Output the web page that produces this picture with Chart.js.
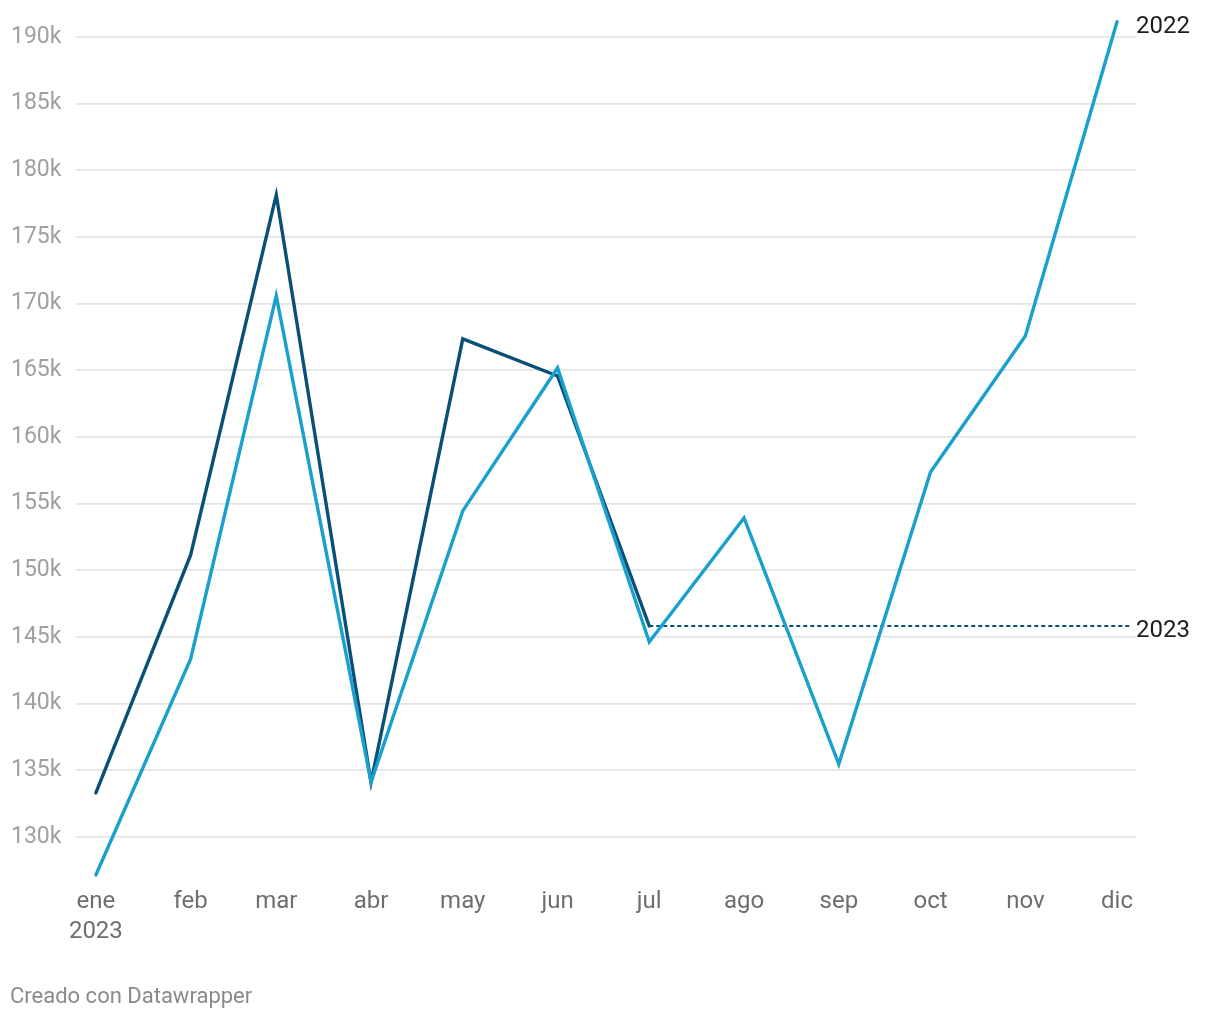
<!DOCTYPE html>
<html>
<head>
<meta charset="utf-8">
<script src="https://cdn.jsdelivr.net/npm/chart.js@4.4.0/dist/chart.umd.min.js"></script>
<style>
html,body{margin:0;padding:0;background:#fff;}
#wrap{position:relative;width:1220px;height:1020px;}
</style>
</head>
<body>
<div id="wrap"><canvas id="c" width="1220" height="1020"></canvas></div>
<script>
// Month labels and their day offset from 1 Jan
const months = ['ene','feb','mar','abr','may','jun','jul','ago','sep','oct','nov','dic'];
const monthDay = [0,31,59,90,120,151,181,212,243,273,304,334];
const yearLabel = '2023';
// Series values (thousands)
const values2022 = [127.15,143.35,170.57,134.12,154.45,165.17,144.62,153.92,135.47,157.37,167.57,191.13];
const values2023 = [133.3,151.15,178.15,134.1,167.35,164.57,145.82];
// dotted extension of last 2023 value
const extensionX = [181,338];
const yTicks = [130,135,140,145,150,155,160,165,170,175,180,185,190];
const footer = 'Creado con Datawrapper';

const C22 = '#1aa0cc';
const C23 = '#0a5076';

const pts = (vals) => vals.map((v,i)=>({x:monthDay[i], y:v}));
const lastV23 = values2023[values2023.length-1];

const endLabels = {
  id:'endLabels',
  afterDatasetsDraw(chart){
    const {ctx, scales:{x,y}} = chart;
    ctx.save();
    ctx.font = '24px Roboto';
    ctx.fillStyle = '#1d1d1d';
    ctx.textBaseline = 'middle';
    ctx.textAlign = 'left';
    ctx.fillText('2022', 1136, y.getPixelForValue(values2022[11]) + 5);
    ctx.fillText('2023', 1136, y.getPixelForValue(lastV23) + 5);
    ctx.font = '22px Roboto';
    ctx.fillStyle = '#8a8a8a';
    ctx.fillText(footer, 10, 997);
    ctx.restore();
  }
};

new Chart(document.getElementById('c'), {
  type:'line',
  data:{
    datasets:[
      {label:'2022', data:pts(values2022), borderColor:C22, borderWidth:3.4, borderCapStyle:'round', pointRadius:0, tension:0, clip:false},
      {label:'2023', data:pts(values2023), borderColor:C23, borderWidth:3.4, borderCapStyle:'round', pointRadius:0, tension:0, clip:false},
      {label:'2023 ext', data:extensionX.map(x=>({x, y:lastV23})), borderColor:C23, borderWidth:1.8, borderDash:[4,3], pointRadius:0, clip:false}
    ]
  },
  options:{
    responsive:false,
    animation:false,
    devicePixelRatio:1,
    layout:{padding:{left:11,right:84,top:20,bottom:0}},
    plugins:{legend:{display:false}, tooltip:{enabled:false}},
    scales:{
      x:{
        type:'linear', min:-6.5, max:340.2,
        grid:{display:false}, border:{display:false},
        afterBuildTicks(s){ s.ticks = monthDay.map(v=>({value:v})); },
        afterFit(s){ s.height = 144; },
        ticks:{
          autoSkip:false, maxRotation:0, padding:3,
          color:'#6e6e6e', font:{family:'Roboto', size:24, lineHeight:1.25},
          callback(v){ const i = monthDay.indexOf(v); return i===0 ? [months[0], yearLabel] : months[i]; }
        }
      },
      y:{
        min:127.075, max:190.825,
        grid:{color:'#e4e4e4', lineWidth:1.8, drawTicks:false},
        border:{display:false},
        afterBuildTicks(s){ s.ticks = yTicks.map(v=>({value:v})); },
        afterFit(s){ s.width = 65; },
        ticks:{
          crossAlign:'far', padding:12,
          color:'#a0a0a0', font:{family:'Roboto', size:23},
          callback(v){ return v + 'k'; }
        }
      }
    }
  },
  plugins:[endLabels]
});
</script>
</body>
</html>
